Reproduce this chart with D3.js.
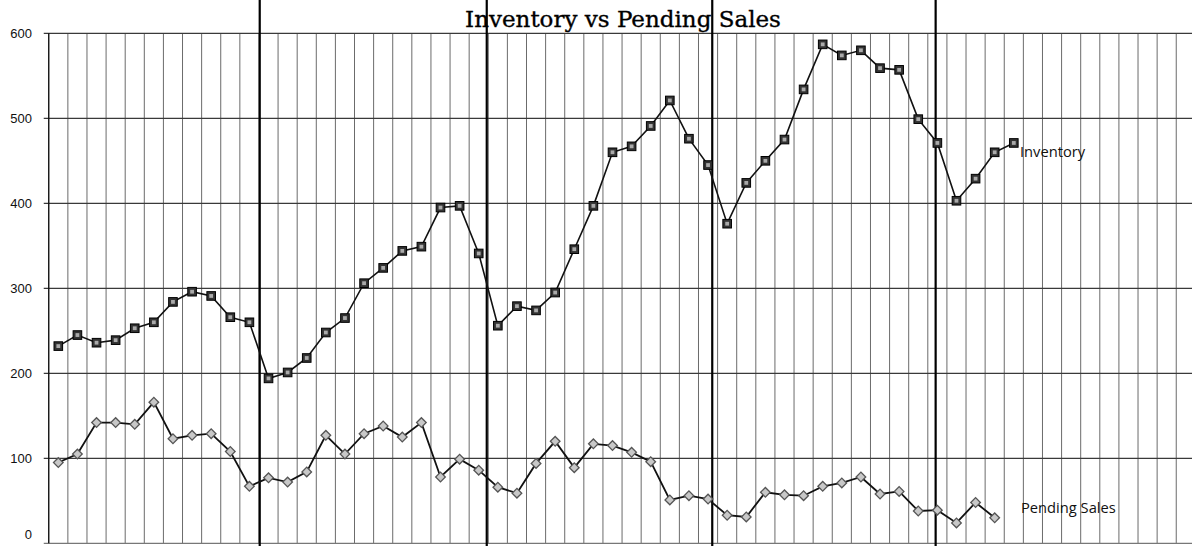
<!DOCTYPE html>
<html>
<head>
<meta charset="utf-8">
<script src="https://cdn.jsdelivr.net/npm/d3@7"></script>
<style>
  body { margin: 0; background: #fff; }
  svg { display: block; }
</style>
</head>
<body>
<div class="chart"></div>
<script>
// Monthly values (5 seasons, inventory has one extra month)
var inventory = [
  232, 245, 236, 239, 253, 260, 284, 296, 291, 266, 260,
  194, 201, 218, 248, 265, 306, 324, 344, 349, 395, 397, 341,
  256, 279, 274, 295, 346, 397, 460, 467, 491, 521, 476, 445,
  376, 424, 450, 475, 534, 587, 574, 580, 559, 557, 499, 471,
  403, 429, 460, 471
];
var pendingSales = [
  95, 105, 142, 142, 140, 166, 123, 127, 129, 108, 67,
  77, 72, 84, 127, 105, 129, 138, 125, 142, 78, 99, 86,
  66, 59, 94, 120, 89, 117, 115, 107, 96, 51, 56, 52,
  33, 31, 60, 57, 56, 67, 71, 78, 58, 61, 38, 39,
  24, 48, 30
];
var yTicks = [0, 100, 200, 300, 400, 500, 600];
// hand drawn year separators, in month units
var yearMarks = [11.04, 22.92, 34.72, 46.41];
var monthCount = 60;

// Define SVG attributes
var svgWidth = 1192;
var svgHeight = 546;
var margin = { top: 33.3, left: 48.75 };
var bandWidth = 19.11;
var height = 510;

var svg = d3
  .select(".chart")
  .append("svg")
  .attr("width", svgWidth)
  .attr("height", svgHeight);

var xScale = d3.scaleLinear()
  .domain([0, monthCount])
  .range([margin.left, margin.left + monthCount * bandWidth]);
var yScale = d3.scaleLinear()
  .domain([0, 600])
  .range([margin.top + height, margin.top]);

// Vertical gridlines, one per month
svg.append("g")
  .selectAll("line")
  .data(d3.range(1, monthCount + 1))
  .enter()
  .append("line")
  .attr("x1", function (d) { return xScale(d); })
  .attr("x2", function (d) { return xScale(d); })
  .attr("y1", yScale(600))
  .attr("y2", yScale(0))
  .attr("stroke", "#6b6b6b")
  .attr("stroke-width", 1);

// Horizontal gridlines with small ticks on the left
svg.append("g")
  .selectAll("line")
  .data(yTicks)
  .enter()
  .append("line")
  .attr("x1", margin.left - 5)
  .attr("x2", svgWidth)
  .attr("y1", function (d) { return yScale(d); })
  .attr("y2", function (d) { return yScale(d); })
  .attr("stroke", function (d) { return d === 0 ? "#777" : "#3a3a3a"; })
  .attr("stroke-width", 1.2);

// y axis line + labels
svg.append("line")
  .attr("x1", margin.left)
  .attr("x2", margin.left)
  .attr("y1", yScale(600))
  .attr("y2", yScale(0))
  .attr("stroke", "#111")
  .attr("stroke-width", 1.4);

svg.append("g")
  .selectAll("text")
  .data(yTicks)
  .enter()
  .append("text")
  .attr("x", 32)
  // the bottom label is pushed up so it stays inside the picture
  .attr("y", function (d) { return Math.min(yScale(d) + 4.5, 539); })
  .attr("text-anchor", "end")
  .style("font", "13px 'Liberation Sans', sans-serif")
  .style("fill", "#111")
  .text(function (d) { return d; });

// Year separators span the whole picture
svg.append("g")
  .selectAll("line")
  .data(yearMarks)
  .enter()
  .append("line")
  .attr("x1", function (d) { return xScale(d); })
  .attr("x2", function (d) { return xScale(d); })
  .attr("y1", 0)
  .attr("y2", svgHeight)
  .attr("stroke", "#000")
  .attr("stroke-width", 2.2);

// Title
svg.append("text")
  .attr("x", 623)
  .attr("y", 27)
  .attr("text-anchor", "middle")
  .style("font", "23px 'DejaVu Serif', serif")
  .style("fill", "#000")
  .style("stroke", "#000")
  .style("stroke-width", 0.35)
  .text("Inventory vs Pending Sales");

var line = d3.line()
  .x(function (d, i) { return xScale(i + 0.5); })
  .y(function (d) { return yScale(d); });

// Pending sales: line + gray diamonds
svg.append("path")
  .datum(pendingSales)
  .attr("d", line)
  .attr("fill", "none")
  .attr("stroke", "#111")
  .attr("stroke-width", 1.8);

svg.append("g")
  .selectAll("path")
  .data(pendingSales)
  .enter()
  .append("path")
  .attr("transform", function (d, i) {
    return "translate(" + xScale(i + 0.5) + "," + yScale(d) + ") rotate(45)";
  })
  .attr("d", "M-3.4,-3.4H3.4V3.4H-3.4Z")
  .attr("fill", "#c8c8c8")
  .attr("stroke", "#555")
  .attr("stroke-width", 1.3);

// Inventory: line + dark squares
svg.append("path")
  .datum(inventory)
  .attr("d", line)
  .attr("fill", "none")
  .attr("stroke", "#111")
  .attr("stroke-width", 1.6);

var squares = svg.append("g")
  .selectAll("g")
  .data(inventory)
  .enter()
  .append("g")
  .attr("transform", function (d, i) {
    return "translate(" + xScale(i + 0.5) + "," + yScale(d) + ")";
  });

squares.append("rect")
  .attr("x", -4.3)
  .attr("y", -4.3)
  .attr("width", 8.6)
  .attr("height", 8.6)
  .attr("fill", "#333")
  .attr("stroke", "#000")
  .attr("stroke-width", 1);

squares.append("rect")
  .attr("x", -1.9)
  .attr("y", -1.9)
  .attr("width", 3.8)
  .attr("height", 3.8)
  .attr("fill", "#aaa");

// Series labels
svg.append("text")
  .attr("x", 1020)
  .attr("y", 157)
  .style("font", "14.7px 'Open Sans', sans-serif")
  .style("fill", "#111")
  .text("Inventory");

svg.append("text")
  .attr("x", 1021)
  .attr("y", 513)
  .style("font", "14.7px 'Open Sans', sans-serif")
  .style("fill", "#111")
  .text("Pending Sales");
</script>
</body>
</html>
